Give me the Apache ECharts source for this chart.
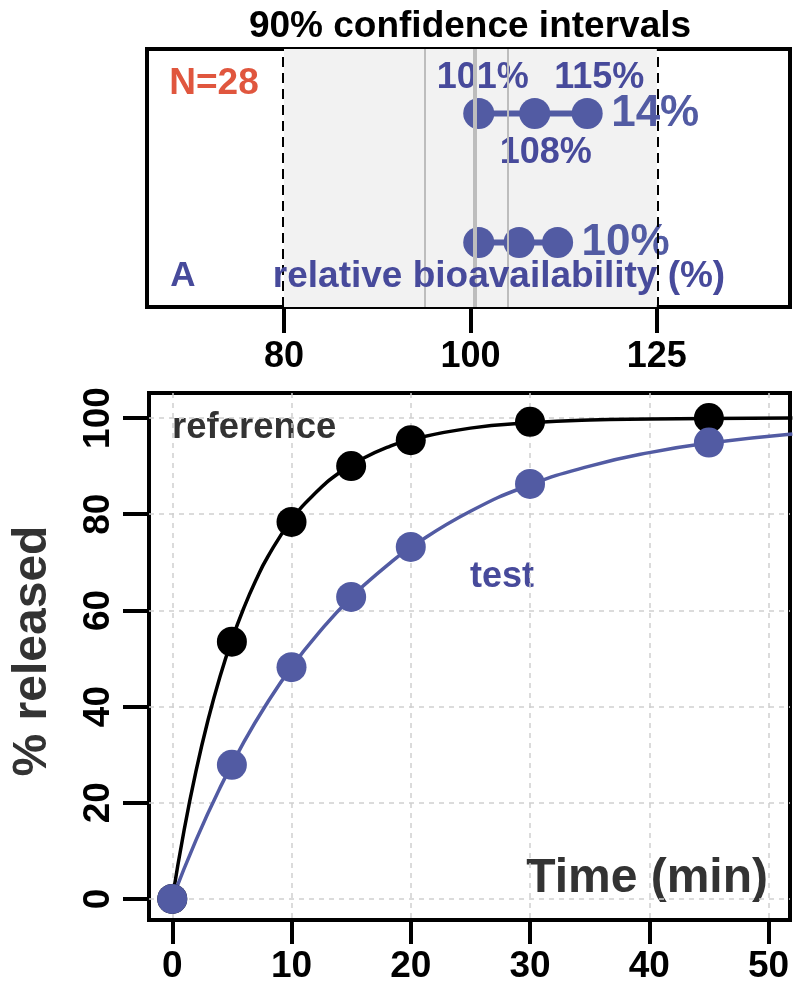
<!DOCTYPE html>
<html>
<head>
<meta charset="utf-8">
<script src="https://cdn.jsdelivr.net/npm/echarts@6/dist/echarts.min.js"></script>
<style>
html, body { margin: 0; padding: 0; background: #fff; }
#chart { width: 794px; height: 985px; }
</style>
</head>
<body>
<div id="chart"></div>
<script>
// top panel: 90% confidence intervals (lower bound, point estimate, upper bound)
// row 1 is the upper interval, row 0 the lower one
const firstCI = [101, 108, 115]
const secondCI = [101, 106, 111]
const ciTicks = [80, 100, 125]
const ciLimits = [80, 125]
const ciRefLines = [95, 105]
const ciCenter = 100

// bottom panel: dissolution profiles
const times = [0, 5, 10, 15, 20, 30, 45]
const referenceReleased = [0, 53.5, 78.4, 90, 95.4, 99.2, 100]
const testReleased = [0, 27.9, 48.2, 62.8, 73.2, 86.3, 94.9]

// fitted curves
const refCurveTime = [0, 1, 2, 3, 4, 5, 6, 7, 8, 10, 12, 14, 16, 18, 20, 25, 30, 35, 40, 45, 52]
const refCurveValue = [0, 14.4, 26.7, 37.2, 46.2, 53.9, 60.5, 66.2, 71.1, 78.8, 84.4, 88.6, 91.6, 93.9, 95.5, 97.9, 99.0, 99.6, 99.8, 99.9, 100]
const testCurveTime = [0, 2, 4, 6, 8, 10, 12, 15, 18, 20, 25, 30, 35, 40, 45, 52]
const testCurveValue = [0, 12.3, 23.1, 32.6, 40.9, 48.2, 54.5, 62.7, 69.3, 73.1, 80.6, 86.1, 90.0, 92.8, 94.8, 96.7]

const timeTicks = [0, 10, 20, 30, 40, 50]
const releasedTicks = [0, 20, 40, 60, 80, 100]

const FONT = '"Liberation Sans", Arial, Helvetica, sans-serif'
const BLUE = '#525ba3'
const BLUE_TEXT = '#474a9b'
const GRID_LINE = { show: true, lineStyle: { color: '#cfcfcf', width: 1.5, type: [5, 5] } }

// the interval panel uses a log scale: positions are ln(value)
const ln = Math.log

const chart = echarts.init(document.getElementById('chart'))

function widthLabel(ci) {
  return {
    show: true,
    formatter: () => (ci[2] - ci[0]) + '%',
    distance: 24,
    color: BLUE,
    fontSize: 44,
    fontWeight: 'bold',
    fontFamily: FONT
  }
}

const option = {
  animation: false,
  backgroundColor: '#fff',
  grid: [
    { left: 147, right: 4, top: 49, height: 258, show: true, borderColor: '#000', borderWidth: 4 },
    { left: 149, right: 4, top: 393, bottom: 65, show: true, borderColor: '#000', borderWidth: 4 }
  ],
  xAxis: [
    {
      gridIndex: 0,
      type: 'value',
      min: ln(67.9),
      max: ln(146.6),
      axisLine: { show: true, onZero: false, lineStyle: { color: '#000', width: 4 } },
      axisTick: { show: true, customValues: ciTicks.map(ln), length: 26, lineStyle: { color: '#000', width: 4 } },
      axisLabel: {
        customValues: ciTicks.map(ln),
        formatter: v => Math.round(Math.exp(v)),
        margin: 32, color: '#000', fontSize: 36, fontWeight: 'bold', fontFamily: FONT
      },
      splitLine: { show: false }
    },
    {
      gridIndex: 1,
      type: 'value',
      min: -1.95,
      max: 51.8,
      axisLine: { show: false, onZero: false },
      axisTick: { customValues: timeTicks, length: 24, lineStyle: { color: '#000', width: 4 } },
      axisLabel: { customValues: timeTicks, margin: 28, color: '#000', fontSize: 37, fontWeight: 'bold', fontFamily: FONT },
      splitLine: GRID_LINE
    }
  ],
  yAxis: [
    {
      gridIndex: 0,
      type: 'value',
      min: -0.5,
      max: 1.5,
      axisLine: { show: false, onZero: false },
      axisTick: { show: false },
      axisLabel: { show: false },
      splitLine: { show: false }
    },
    {
      gridIndex: 1,
      type: 'value',
      min: -4.37,
      max: 105.2,
      axisLine: { show: false, onZero: false },
      axisTick: { customValues: releasedTicks, length: 26, lineStyle: { color: '#000', width: 4 } },
      axisLabel: { customValues: releasedTicks, rotate: 90, margin: 32, color: '#000', fontSize: 37, fontWeight: 'bold', fontFamily: FONT },
      splitLine: GRID_LINE
    }
  ],
  series: [
    // shading and reference lines of the interval panel
    {
      type: 'line',
      xAxisIndex: 0,
      yAxisIndex: 0,
      data: [],
      z: 1,
      markArea: {
        silent: true,
        itemStyle: { color: '#f2f2f2' },
        data: [[{ xAxis: ln(ciLimits[0]) }, { xAxis: ln(ciLimits[1]) }]]
      },
      markLine: {
        silent: true,
        symbol: 'none',
        label: { show: false },
        data: [
          ...ciRefLines.map(v => ({ xAxis: ln(v), lineStyle: { color: '#bdbdbd', width: 2, type: 'solid' } })),
          { xAxis: ln(ciCenter), lineStyle: { color: '#bdbdbd', width: 4, type: 'solid' } },
          ...ciLimits.map(v => ({ xAxis: ln(v), lineStyle: { color: '#000', width: 2, type: [10, 6] } }))
        ]
      }
    },
    {
      name: 'upper interval',
      type: 'line',
      xAxisIndex: 0,
      yAxisIndex: 0,
      z: 3,
      symbol: 'circle',
      symbolSize: 31,
      itemStyle: { color: BLUE },
      lineStyle: { color: BLUE, width: 6 },
      label: {
        show: true,
        formatter: p => firstCI[p.dataIndex] + '%',
        color: BLUE_TEXT, fontSize: 36, fontWeight: 'bold', fontFamily: FONT, distance: 2
      },
      data: [
        { value: [ln(firstCI[0]), 1], label: { position: 'top', offset: [4, 0] } },
        { value: [ln(firstCI[1]), 1], label: { position: 'bottom', offset: [11, 4] } },
        { value: [ln(firstCI[2]), 1], label: { position: 'top', offset: [12, 0] } }
      ],
      endLabel: widthLabel(firstCI)
    },
    {
      name: 'lower interval',
      type: 'line',
      xAxisIndex: 0,
      yAxisIndex: 0,
      z: 3,
      symbol: 'circle',
      symbolSize: 31,
      itemStyle: { color: BLUE },
      lineStyle: { color: BLUE, width: 6 },
      data: secondCI.map(v => [ln(v), 0]),
      endLabel: widthLabel(secondCI)
    },
    // dissolution curves
    {
      name: 'reference fit',
      type: 'line',
      xAxisIndex: 1,
      yAxisIndex: 1,
      smooth: true,
      symbol: 'none',
      z: 2,
      lineStyle: { color: '#000', width: 3.5 },
      data: refCurveTime.map((t, i) => [t, refCurveValue[i]])
    },
    {
      name: 'test fit',
      type: 'line',
      xAxisIndex: 1,
      yAxisIndex: 1,
      smooth: true,
      symbol: 'none',
      z: 2,
      lineStyle: { color: BLUE, width: 3.5 },
      data: testCurveTime.map((t, i) => [t, testCurveValue[i]])
    },
    {
      name: 'reference',
      type: 'scatter',
      xAxisIndex: 1,
      yAxisIndex: 1,
      symbolSize: 30,
      z: 3,
      itemStyle: { color: '#000', opacity: 1 },
      data: times.map((t, i) => [t, referenceReleased[i]])
    },
    {
      name: 'test',
      type: 'scatter',
      xAxisIndex: 1,
      yAxisIndex: 1,
      symbolSize: 30,
      z: 4,
      itemStyle: { color: BLUE, opacity: 1 },
      data: times.map((t, i) => [t, testReleased[i]])
    }
  ],
  graphic: [
    { type: 'text', x: 470, y: 27, style: { text: '90% confidence intervals', fill: '#000', fontSize: 37, fontWeight: 'bold', fontFamily: FONT, align: 'center', verticalAlign: 'middle' } },
    { type: 'text', x: 214, y: 84, style: { text: 'N=28', fill: '#e0563e', fontSize: 37, fontWeight: 'bold', fontFamily: FONT, align: 'center', verticalAlign: 'middle' } },
    { type: 'text', x: 183, y: 276, style: { text: 'A', fill: BLUE_TEXT, fontSize: 35, fontWeight: 'bold', fontFamily: FONT, align: 'center', verticalAlign: 'middle' } },
    { type: 'text', x: 499, y: 277, z: 10, style: { text: 'relative bioavailability (%)', fill: BLUE_TEXT, fontSize: 37, fontWeight: 'bold', fontFamily: FONT, align: 'center', verticalAlign: 'middle' } },
    { type: 'text', x: 172, y: 428, style: { text: 'reference', fill: '#333', fontSize: 36.5, fontWeight: 'bold', fontFamily: FONT, align: 'left', verticalAlign: 'middle' } },
    { type: 'text', x: 470, y: 577, style: { text: 'test', fill: BLUE_TEXT, fontSize: 36, fontWeight: 'bold', fontFamily: FONT, align: 'left', verticalAlign: 'middle' } },
    { type: 'text', x: 768, y: 879, style: { text: 'Time (min)', fill: '#333', fontSize: 48, fontWeight: 'bold', fontFamily: FONT, align: 'right', verticalAlign: 'middle' } },
    { type: 'text', x: 33, y: 651, rotation: Math.PI / 2, style: { text: '% released', fill: '#333', fontSize: 48, fontWeight: 'bold', fontFamily: FONT, align: 'center', verticalAlign: 'middle' } }
  ]
}

chart.setOption(option)
</script>
</body>
</html>
